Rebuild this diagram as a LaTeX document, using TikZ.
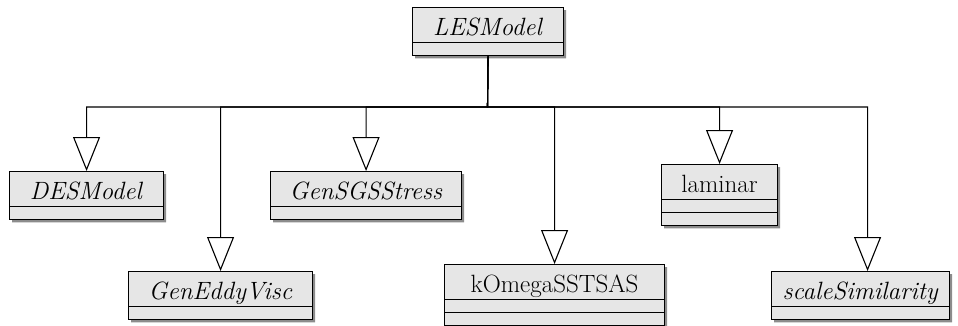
\documentclass[tikz,border=0pt]{standalone}
\usetikzlibrary{shapes.multipart, arrows.meta, shadows}
\definecolor{cBox}{RGB}{230,230,230}
\definecolor{cShadow}{RGB}{140,140,140}
\tikzset{
	% class box: name part + empty parts
	umlclass/.style={rectangle split, rectangle split parts=#1, draw=black, line width=1.1bp, fill=cBox, anchor=north west, inner sep=0pt, rectangle split empty part height=12bp, rectangle split empty part depth=0pt, execute at begin node={\rule[-7bp]{0pt}{34bp}}, drop shadow={shadow xshift=2.5bp, shadow yshift=-2.5bp, fill=cShadow, opacity=1}},
	umlclass/.default=2,
	inherit/.style={-{Triangle[open, length=34bp, width=27bp]}, line width=1.1bp},
}
\begin{document}
\begin{tikzpicture}[x=1bp, y=-1bp, font=\fontsize{25bp}{29bp}\selectfont]
	\useasboundingbox (0,0) rectangle (958,325);
	\node[umlclass, minimum width=151bp] (les) at (412,7) {\textit{LESModel}};
	\node[umlclass, minimum width=154bp] (des) at (9,171) {\textit{DESModel}};
	\node[umlclass, minimum width=191bp] (sgs) at (270,171) {\textit{GenSGSStress}};
	\node[umlclass=3, minimum width=116bp] (lam) at (661,164) {laminar};
	\node[umlclass, minimum width=184bp] (eddy) at (128,271) {\textit{GenEddyVisc}};
	\node[umlclass=3, minimum width=220bp] (kom) at (444,264) {kOmegaSSTSAS};
	\node[umlclass, minimum width=178bp] (scl) at (771,271) {\textit{scaleSimilarity}};
	\coordinate (bus) at (487.5,107);
	\foreach \c in {des,eddy,sgs,kom,lam}
		\draw[inherit] (les.south) -- (bus) -| (\c.north);
	\draw[inherit] (les.south) -- (bus) -| ([xshift=7bp]scl.north);
\end{tikzpicture}
\end{document}
